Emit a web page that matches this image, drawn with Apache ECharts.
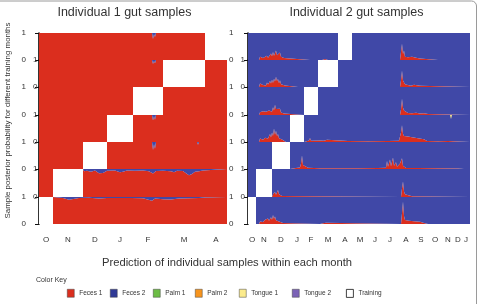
<!DOCTYPE html>
<html><head><meta charset="utf-8">
<script src="https://cdn.jsdelivr.net/npm/echarts@6/dist/echarts.min.js"></script>
<style>html,body{margin:0;padding:0;background:#fff}#c{width:479px;height:304px}</style>
</head><body><div id="c"></div>
<script>
// ---------------- DATA ----------------
// Month tick labels and number of samples per month (x axis = sample order)
const ind1Months = ['O','N','D','J','F','M','A'];
const ind1MonthSamples = [7,15,12,13,15,21,11];
const ind2Months = ['O','N','D','J','F','M','A','M','J','J','A','S','O','N','D','J'];
const ind2MonthSamples = [4,8,9,7,7,10,7,8,7,8,8,7,7,6,4,4];
// Training month (index into month list) for each row, top to bottom
const ind1TrainingMonth = [6,5,4,3,2,1,0];
const ind2TrainingMonth = [6,5,4,3,2,1,0];

// Individual 1: posterior probability of "Feces 2" per sample [sampleIndex, prob] (rest is Feces 1)
const ind1Feces2Row1 = [[15,0],[15.5,0.06],[16,0],[23.5,0],[24,0.05],[24.5,0],[56.5,0],[57,0.22],[57.5,0.05],[58,0.15],[58.5,0],[70,0],[70.5,0.05],[71,0]];
const ind1Feces2Row2 = [[22.5,0],[23,0.06],[23.5,0],[32.5,0],[33,0.05],[33.5,0],[41.5,0],[42,0.07],[42.5,0],[56.5,0],[57,0.15],[57.5,0.04],[58,0.12],[58.5,0]];
const ind1Feces2Row3 = [];
const ind1Feces2Row4 = [[15,0],[15.5,0.05],[16,0],[26,0],[26.5,0.04],[27,0],[56.5,0],[57,0.2],[57.5,0.05],[58,0.18],[58.5,0],[78.5,0],[79,0.05],[79.5,0]];
const ind1Feces2Row5 = [[56.5,0],[57,0.3],[57.5,0.08],[58,0.25],[58.5,0],[79,0],[79.5,0.1],[80,0]];
const ind1Feces2Row6 = [[22,0],[22.5,0.08],[24,0.06],[26,0.1],[28,0.05],[30,0.15],[31,0.08],[32,0.14],[34,0.06],[38,0.05],[40.5,0.12],[42,0.1],[44,0.05],[48,0.06],[52,0.05],[55,0.08],[57,0.16],[58.5,0.07],[62,0.06],[66,0.08],[67.5,0.12],[69,0.06],[72,0.07],[73.5,0.15],[75,0.22],[76.5,0.18],[78,0.1],[80,0.08],[82,0.05],[83,0]];
const ind1Feces2Row7 = [[7,0],[7.5,0.04],[12,0.04],[15,0.1],[16,0.05],[20,0.04],[25,0.03],[30,0.06],[34,0.04],[40,0.04],[46,0.04],[52,0.05],[56.5,0.14],[58,0.06],[62,0.08],[66,0.09],[70,0.06],[75,0.05],[80,0.04],[83,0.02],[84,0]];

// Individual 2: posterior probability of "Feces 1" per sample [sampleIndex, prob] (rest is Feces 2)
const ind2Feces1Row1 = [[5.5,0],[6,0.12],[6.5,0.06],[7,0.16],[7.5,0.07],[8,0.1],[8.5,0.06],[9.5,0.16],[10,0.08],[10.5,0.14],[11,0.1],[11.5,0.24],[12,0.14],[12.5,0.3],[13,0.16],[13.5,0.22],[14,0.35],[14.5,0.18],[15,0.24],[15.5,0.13],[16,0.28],[16.5,0.12],[17,0.14],[17.5,0.06],[18,0.07],[18.5,0],
  [31,0],[31.5,0.06],[32,0],[37,0],[37.5,0.05],[38.5,0.04],[39.5,0.06],[40,0],
  [76,0],[76.5,0.3],[77,0.6],[77.5,0.22],[78,0.35],[78.5,0.12],[79,0.16],[80,0.1],[80.5,0.15],[81,0.08],[82,0.12],[82.5,0.06],[84,0.08],[85,0.05],[86,0.06],[87,0],
  [95,0],[95.5,0.04],[96,0],[106.5,0],[107,0.04],[107.5,0]];
const ind2Feces1Row2 = [[5.5,0],[6,0.13],[6.5,0.06],[7,0.15],[7.5,0.07],[8.5,0.12],[9,0.06],[9.5,0.17],[10,0.09],[11,0.22],[11.5,0.13],[12,0.27],[12.5,0.15],[13,0.31],[13.5,0.2],[14,0.38],[14.5,0.22],[15,0.3],[15.5,0.14],[16,0.25],[16.5,0.1],[17,0.14],[17.5,0.06],[18.5,0.06],[19,0],
  [25,0],[25.5,0.04],[26,0],[31,0],[31.5,0.05],[32,0],
  [76,0],[76.5,0.25],[77,0.6],[77.5,0.24],[78,0.3],[78.5,0.1],[79.5,0.13],[80,0.07],[81,0.1],[81.5,0.05],[83,0.08],[84,0.04],[86,0.05],[87,0]];
const ind2Feces1Row3 = [[5.5,0],[6,0.1],[6.5,0.05],[7.5,0.13],[8,0.06],[9,0.12],[9.5,0.07],[10.5,0.16],[11,0.09],[11.5,0.21],[12,0.12],[12.5,0.28],[13,0.16],[13.5,0.37],[14,0.21],[14.5,0.28],[15,0.14],[16,0.22],[16.5,0.09],[17,0.11],[18,0.05],[18.5,0],
  [76,0],[76.5,0.2],[77,0.58],[77.5,0.26],[78,0.16],[79,0.11],[80,0.07],[81,0.1],[82,0.06],[84,0.08],[86,0.05],[88,0.06],[90,0.04],[91,0]];
const ind2Feces1Row4 = [[5.5,0],[6,0.13],[6.5,0.07],[7,0.18],[7.5,0.08],[8.5,0.16],[9,0.1],[9.5,0.22],[10,0.13],[11,0.3],[11.5,0.17],[12,0.35],[12.5,0.22],[13,0.5],[13.5,0.27],[14,0.42],[14.5,0.22],[15,0.3],[15.5,0.14],[16,0.2],[17,0.09],[18,0.05],[19,0],
  [28,0.04],[30.5,0.06],[31,0.15],[31.5,0.05],[36,0.06],[37,0.1],[38,0.05],[39.5,0.08],[40,0.03],[50,0.04],[60,0.03],[70,0.04],
  [75.5,0.05],[76,0.2],[76.5,0.35],[77,0.62],[77.5,0.3],[78,0.22],[79,0.18],[80,0.2],[81,0.15],[82,0.18],[83,0.12],[85,0.14],[86,0.08],[88,0.1],[89.5,0.04],[95,0.03],[100,0.04],[105,0.02],[106,0]];
const ind2Feces1Row5 = [[21,0.03],[24,0.04],[26,0.06],[26.5,0.2],[27,0.5],[27.5,0.15],[28,0.08],[30,0.05],[33,0.04],[36,0.03],[45,0.03],[55,0.03],[65,0.04],[69,0.05],[69.5,0.3],[70,0.08],[71,0.35],[71.5,0.1],[72.5,0.43],[73,0.12],[74,0.25],[74.5,0.08],[76,0.2],[77,0.4],[77.5,0.12],[78.5,0.15],[79,0.04],[85,0.04],[85.5,0.1],[86,0.03],[95,0.03],[105,0.02],[108,0]];
const ind2Feces1Row6 = [[12,0],[12.5,0.1],[13,0.05],[13.5,0.18],[14,0.08],[15,0.25],[15.5,0.1],[16,0.15],[17,0.04],[17.5,0],
  [76.5,0],[77,0.3],[77.5,0.55],[78,0.2],[78.5,0.1],[79,0.03],[82,0.03],[82.5,0.1],[83,0]];
const ind2Feces1Row7 = [[5.5,0],[6,0.09],[7,0.13],[7.5,0.07],[8.5,0.16],[9,0.1],[10,0.2],[10.5,0.12],[11.5,0.25],[12,0.16],[12.5,0.33],[13,0.19],[13.5,0.28],[14,0.14],[15,0.2],[15.5,0.09],[16.5,0.12],[17.5,0.04],[18,0],
  [36,0],[36.5,0.05],[37.5,0.03],[39,0.05],[40,0],
  [76.5,0],[77,0.4],[77.5,0.82],[78,0.3],[78.5,0.15],[79.5,0.08],[80.5,0.12],[81.5,0.06],[83,0.1],[84,0.05],[86,0.08],[88,0.04],[90,0]];
// Individual 2, row 4: posterior probability of "Tongue 1"
const ind2Tongue1Row4 = [[101,0],[101.5,0.15],[102,0]];

const legendNames = ['Feces 1','Feces 2','Palm 1','Palm 2','Tongue 1','Tongue 2','Training'];

// ---------------- STYLE ----------------
const RED = '#db2e1e', BLUE = '#4048a7', GREEN = '#6cbd45', ORANGE = '#f7941d', YELLOW = '#fbeb8c', PURPLE = '#7b62b6';
const legendColors = [RED, '#2f3a96', GREEN, ORANGE, YELLOW, PURPLE, '#ffffff'];
const legendX = [67, 110, 153, 195, 239, 292, 346];
const FONT = '"Liberation Sans", Arial, sans-serif';
const TXT = '#333';
const ROW_EDGES = [33, 60, 87, 115, 142, 169, 197, 224];

const panels = [
  {left:39, width:188, offset:8, months:ind1Months, counts:ind1MonthSamples, training:ind1TrainingMonth,
   rows:[ind1Feces2Row1,ind1Feces2Row2,ind1Feces2Row3,ind1Feces2Row4,ind1Feces2Row5,ind1Feces2Row6,ind1Feces2Row7],
   toFeces1: v => 1 - v, base: 1},
  {left:248, width:222, offset:9.5, months:ind2Months, counts:ind2MonthSamples, training:ind2TrainingMonth,
   rows:[ind2Feces1Row1,ind2Feces1Row2,ind2Feces1Row3,ind2Feces1Row4,ind2Feces1Row5,ind2Feces1Row6,ind2Feces1Row7],
   toFeces1: v => v, base: 0}
];

const grids = [], xAxes = [], yAxes = [], series = [];
panels.forEach((p, pi) => {
  const starts = [0];
  p.counts.forEach(c => starts.push(starts[starts.length - 1] + c));
  const total = starts[starts.length - 1];
  const centers = p.counts.map((c, i) => starts[i] + c / 2);
  p.rows.forEach((rowData, r) => {
    const idx = pi * 7 + r;
    const bottom = r === 6;
    grids.push({left: p.left, top: ROW_EDGES[r], width: p.width, height: ROW_EDGES[r + 1] - ROW_EDGES[r]});
    xAxes.push({
      gridIndex: idx, type: 'value', min: 0, max: total, interval: 0.5, show: bottom,
      axisLine: {show: false}, axisTick: {show: false}, splitLine: {show: false},
      axisLabel: {show: bottom, margin: 12, fontSize: 8, color: TXT, fontFamily: FONT,
        formatter: v => { const k = centers.findIndex(c => Math.abs(c - v) < 1e-6); return k >= 0 ? p.months[k] : ''; }}
    });
    const inner = r % 2 === 1;
    yAxes.push({
      gridIndex: idx, type: 'value', min: 0, max: 1, interval: 1, offset: p.offset,
      axisLine: {show: true, lineStyle: {color: '#111', width: 1.7}},
      axisTick: {show: true, length: 4, lineStyle: {color: '#111', width: 1}},
      splitLine: {show: false},
      axisLabel: {inside: inner, margin: inner ? 2 : 5, fontSize: 8, color: TXT, fontFamily: FONT}
    });
    const tm = p.training[r];
    const ts = starts[tm], te = starts[tm + 1];
    const pts = rowData.map(([x, v]) => [x, p.toFeces1(v)]);
    const segs = [[0, ts], [te, total]].filter(s => s[1] > s[0]);
    segs.forEach(([a, b]) => {
      const seg = [[a, p.base]].concat(pts.filter(q => q[0] >= a && q[0] <= b), [[b, p.base]]);
      const common = {type: 'line', xAxisIndex: idx, yAxisIndex: idx, data: seg, symbol: 'none',
        lineStyle: {width: 0}, silent: true, animation: false};
      series.push(Object.assign({name: 'Feces 1', color: RED, areaStyle: {color: RED, opacity: 1, origin: 'start'}}, common));
      series.push(Object.assign({name: 'Feces 2', color: BLUE, areaStyle: {color: BLUE, opacity: 1, origin: 'end'}}, common));
    });
    series.push({type: 'line', name: 'Training', color: '#ffffff', xAxisIndex: idx, yAxisIndex: idx,
      data: [[ts, 1], [te, 1]], symbol: 'none', lineStyle: {width: 0}, silent: true, animation: false,
      areaStyle: {color: '#ffffff', opacity: 1, origin: 'start'}});
  });
});
// Tongue 1 in Individual 2, row 4 (stacked at the top)
series.push({type: 'line', name: 'Tongue 1', color: YELLOW, xAxisIndex: 10, yAxisIndex: 10,
  data: ind2Tongue1Row4.map(([x, v]) => [x, 1 - v]), symbol: 'none', lineStyle: {width: 0}, silent: true,
  animation: false, areaStyle: {color: YELLOW, opacity: 1, origin: 'end'}, z: 3});
// Classes with no visible probability (kept for the colour key)
[['Palm 1', GREEN], ['Palm 2', ORANGE], ['Tongue 2', PURPLE]].forEach(([n, c]) => {
  series.push({type: 'line', name: n, color: c, xAxisIndex: 0, yAxisIndex: 0, data: [], symbol: 'none'});
});

const legends = legendNames.map((n, i) => ({
  data: [{name: n, itemStyle: {color: legendColors[i], borderColor: n === 'Training' ? '#111' : '#444', borderWidth: n === 'Training' ? 0.8 : 0.5}}],
  left: legendX[i], top: 289, padding: 0, itemWidth: 7, itemHeight: 8, icon: 'rect', selectedMode: false,
  textStyle: {fontSize: 6.5, color: TXT, fontFamily: FONT}
}));

const chart = echarts.init(document.getElementById('c'), null, {renderer: 'canvas'});
chart.setOption({
  animation: false,
  backgroundColor: '#ffffff',
  grid: grids, xAxis: xAxes, yAxis: yAxes, series: series, legend: legends,
  graphic: [
    {type: 'rect', shape: {x: -10, y: 1, width: 486.5, height: 330, r: 5}, style: {fill: 'none', stroke: '#9a9a9a', lineWidth: 1}, silent: true},
    {type: 'text', x: 124.5, y: 13, style: {text: 'Individual 1 gut samples', fill: TXT, fontSize: 12.5, fontFamily: FONT, align: 'center', verticalAlign: 'middle'}},
    {type: 'text', x: 356.5, y: 13, style: {text: 'Individual 2 gut samples', fill: TXT, fontSize: 12.5, fontFamily: FONT, align: 'center', verticalAlign: 'middle'}},
    {type: 'text', x: 227, y: 263, style: {text: 'Prediction of individual samples within each month', fill: TXT, fontSize: 11.2, fontFamily: FONT, align: 'center', verticalAlign: 'middle'}},
    {type: 'text', x: 8, y: 120.5, rotation: Math.PI / 2, style: {text: 'Sample posterior probability for different training months', fill: TXT, fontSize: 7.9, fontFamily: FONT, align: 'center', verticalAlign: 'middle'}},
    {type: 'text', x: 36, y: 280, style: {text: 'Color Key', fill: TXT, fontSize: 7, fontFamily: FONT, align: 'left', verticalAlign: 'middle'}}
  ]
});
</script>
</body></html>
